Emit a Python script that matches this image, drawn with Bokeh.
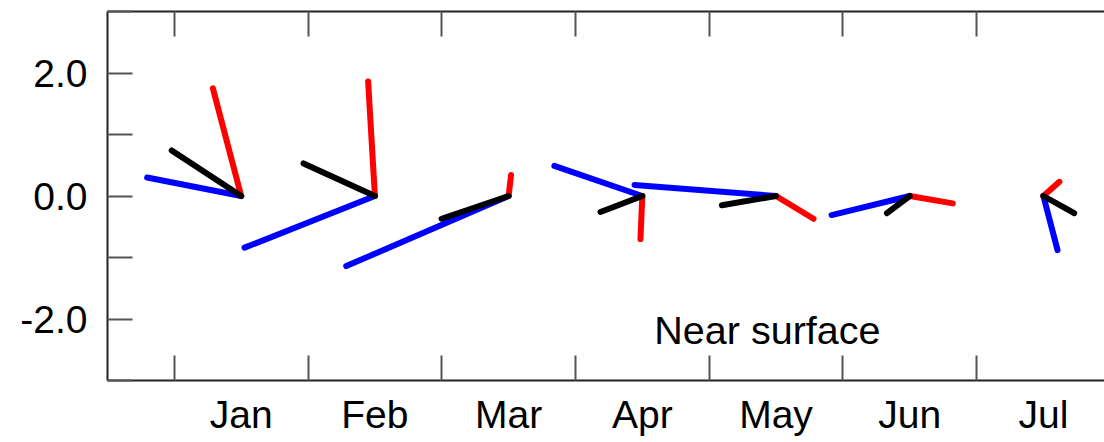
from bokeh.plotting import figure
from bokeh.models import (ColumnDataSource, FixedTicker, LinearAxis, Range1d,
                          PrintfTickFormatter, Label)
from bokeh.embed import file_html
from bokeh.resources import INLINE

# ---- data (vector components in y-axis units) ----
months = ["Jan", "Feb", "Mar", "Apr", "May", "Jun", "Jul"]
blue_u = [-1.53, -2.12, -2.64, -1.43, -2.30, -1.27, 0.23]
blue_v = [0.30, -0.84, -1.14, 0.49, 0.18, -0.31, -0.88]
black_u = [-1.13, -1.16, -1.09, -0.68, -0.88, -0.37, 0.50]
black_v = [0.74, 0.53, -0.37, -0.26, -0.15, -0.28, -0.28]
red_u = [-0.46, -0.11, 0.04, -0.03, 0.61, 0.70, 0.26]
red_v = [1.75, 1.86, 0.34, -0.70, -0.37, -0.12, 0.23]
y_labels = [-2, 0, 2]
y_minor = [-3, -1, 1, 3]
annotation = "Near surface"

FRAME_W, FRAME_H = 997, 369
X_END = 7.457
Y_START, Y_END = -3, 3

centers = [i + 1 for i in range(len(months))]
bounds = [i + 0.5 for i in range(len(months) + 1)]

# aspect factor: convert y-unit vector component to x data units
px_per_y = FRAME_H / (Y_END - Y_START)
px_per_x = FRAME_W / X_END
k = px_per_y / px_per_x

FONT = "Liberation Sans"

p = figure(frame_width=FRAME_W, frame_height=FRAME_H,
           x_range=Range1d(0, X_END), y_range=Range1d(Y_START, Y_END),
           output_backend="svg", toolbar_location=None,
           x_axis_location=None, y_axis_location=None,
           min_border_left=107, min_border_right=0, min_border_top=11,
           min_border_bottom=58)
p.outline_line_color = None
p.xgrid.visible = False
p.ygrid.visible = False
p.background_fill_color = "white"
p.border_fill_color = "white"

AX_COLOR = "#222222"
TICK_COLOR = "#555555"


def style_axis(ax, show_labels=True):
    ax.axis_line_color = AX_COLOR
    ax.axis_line_width = 2
    ax.major_tick_line_color = TICK_COLOR
    ax.minor_tick_line_color = TICK_COLOR
    ax.major_tick_line_width = 2
    ax.minor_tick_line_width = 2
    ax.major_label_text_font = FONT
    ax.major_label_text_font_size = "39px"
    ax.major_label_text_color = "black"
    if not show_labels:
        ax.major_label_text_alpha = 0
        ax.major_label_text_font_size = "1px"
        ax.major_label_standoff = 0


# bottom axis: labels at month centres, ticks at boundaries
xt = FixedTicker(ticks=centers, minor_ticks=bounds)
xb = LinearAxis(ticker=xt)
style_axis(xb)
xb.major_label_overrides = {c: m for c, m in zip(centers, months)}
xb.major_tick_in = 0
xb.major_tick_out = 0
xb.minor_tick_in = 25
xb.minor_tick_out = 0
xb.major_label_standoff = 12
p.add_layout(xb, "below")

# top axis: ticks only
xtop = LinearAxis(ticker=FixedTicker(ticks=centers, minor_ticks=bounds))
style_axis(xtop, show_labels=False)
xtop.major_label_overrides = {c: "" for c in centers}
xtop.major_tick_in = 0
xtop.major_tick_out = 0
xtop.minor_tick_in = 25
xtop.minor_tick_out = 0
p.add_layout(xtop, "above")

# left axis
yl = LinearAxis(ticker=FixedTicker(ticks=y_labels, minor_ticks=y_minor),
                formatter=PrintfTickFormatter(format="%.1f"))
style_axis(yl)
yl.major_tick_in = 25
yl.major_tick_out = 0
yl.minor_tick_in = 25
yl.minor_tick_out = 0
yl.major_label_standoff = 20
p.add_layout(yl, "left")


def sticks(u, v, color):
    src = ColumnDataSource(dict(
        x0=centers, y0=[0] * len(centers),
        x1=[c + uu * k for c, uu in zip(centers, u)], y1=list(v)))
    p.segment("x0", "y0", "x1", "y1", source=src, line_color=color,
              line_width=6, line_cap="round")


sticks(blue_u, blue_v, "#0000ff")
sticks(red_u, red_v, "#ff0000")
sticks(black_u, black_v, "#000000")

p.add_layout(Label(x=4.09, y=-2.18, text=annotation, text_font=FONT,
                   text_font_size="39.5px", text_color="black",
                   text_baseline="alphabetic"))

open("out.html", "w").write(file_html(p, INLINE))
